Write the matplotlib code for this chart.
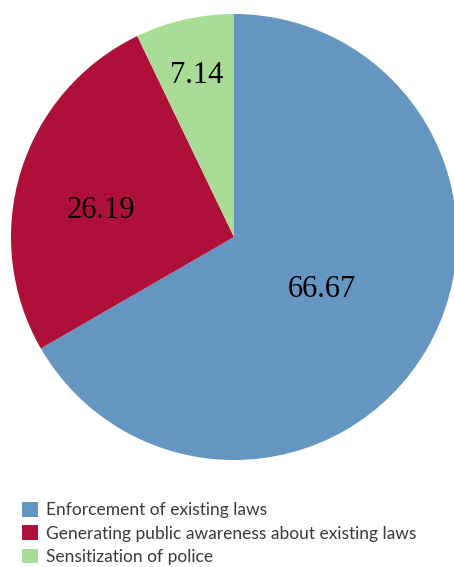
import numpy as np
import matplotlib.pyplot as plt

# ---- data ----
labels = ['Enforcement of existing laws',
          'Generating public awareness about existing laws',
          'Sensitization of police']
values = [66.67, 26.19, 7.14]
colors = ['#6595C1', '#AF1039', '#A8DC97']
label_r = [0.46, 0.61, 0.745]   # radial position of each value label
label_dang = [-0.5, 6, 0]       # angular nudge (deg) from wedge middle

fig = plt.figure(figsize=(4.54, 5.67), dpi=100)
ax = fig.add_axes([0.0242, 0.1887, 0.9824, 0.7866])
wedges, _ = ax.pie(values, colors=colors, startangle=90, counterclock=False,
                   radius=1.0, wedgeprops=dict(linewidth=0))
for w in wedges:
    w.set_clip_on(False)
ax.set_xlim(-1, 1)
ax.set_ylim(-1, 1)
ax.set_aspect('equal')
ax.axis('off')

# value labels inside wedges
for w, v, r, da in zip(wedges, values, label_r, label_dang):
    ang = np.deg2rad((w.theta1 + w.theta2) / 2 + da)
    ax.text(r * np.cos(ang), r * np.sin(ang), f'{v:.2f}',
            ha='center', va='center', fontsize=22,
            family='Liberation Serif', color='black')

leg = fig.legend(wedges, labels, loc='upper left',
                 bbox_to_anchor=(0.0485, 0.1146), frameon=False,
                 prop=dict(family='Lato', size=12.5), handlelength=0.92,
                 handleheight=0.92, handletextpad=0.45, labelspacing=0.40,
                 borderaxespad=0, borderpad=0)
for t in leg.get_texts():
    t.set_color('#3a3a3a')

fig.savefig('out.png', dpi=100)
